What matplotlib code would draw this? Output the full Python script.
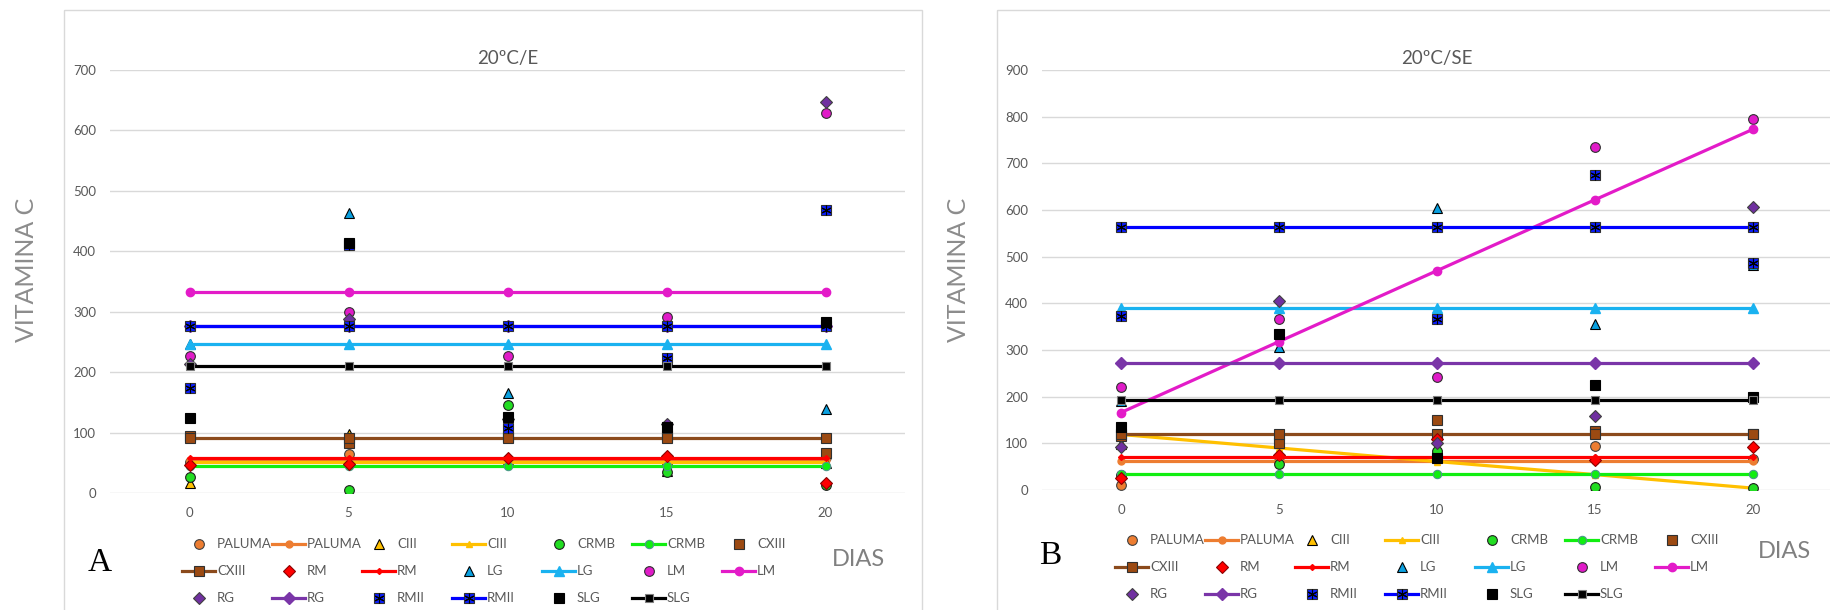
import numpy as np
import matplotlib.pyplot as plt

plt.rcParams['font.family'] = ['Lato', 'DejaVu Sans']

dias = [0, 5, 10, 15, 20]
muestras = ['PALUMA', 'CIII', 'CRMB', 'CXIII', 'RM', 'LG', 'LM', 'RG', 'RMII', 'SLG']

# 20ºC/E : valores medidos
e_paluma = [52, 64, 50, 46, 60]
e_ciii = [17, 98, 52, 36, 50]
e_crmb = [27, 5, 145, 34, 13]
e_cxiii = [95, 83, 92, 95, 66]
e_rm = [46, 48, 58, 62, 16]
e_lg = [246, 464, 166, 221, 139]
e_lm = [226, 299, 226, 292, 629]
e_rg = [213, 288, 122, 115, 647]
e_rmii = [173, 410, 107, 223, 469]
e_slg = [124, 413, 125, 110, 283]

# 20ºC/E : rectas
e_paluma_r = [54, 54, 54, 54, 54]
e_ciii_r = [51, 51, 51, 51, 51]
e_crmb_r = [44, 44, 44, 44, 44]
e_cxiii_r = [91, 91, 91, 91, 91]
e_rm_r = [58, 58, 58, 58, 58]
e_lg_r = [247, 247, 247, 247, 247]
e_lm_r = [332, 332, 332, 332, 332]
e_rg_r = [277, 277, 277, 277, 277]
e_rmii_r = [277, 277, 277, 277, 277]
e_slg_r = [210, 210, 210, 210, 210]

# 20ºC/SE : valores medidos
se_paluma = [11, 62, 82, 94, 66]
se_ciii = [98, 112, 88, 7, 5]
se_crmb = [33, 55, 84, 7, 5]
se_cxiii = [116, 101, 150, 127, 119]
se_rm = [25, 75, 109, 64, 93]
se_lg = [191, 307, 604, 355, 483]
se_lm = [220, 366, 243, 734, 795]
se_rg = [92, 406, 100, 159, 606]
se_rmii = [373, np.nan, 366, 675, 486]
se_slg = [136, 334, 68, 225, 200]

# 20ºC/SE : rectas
se_paluma_r = [62, 62, 62, 62, 62]
se_ciii_r = [119, 90, 61, 33, 4]
se_crmb_r = [34, 34, 34, 34, 34]
se_cxiii_r = [120, 120, 120, 120, 120]
se_rm_r = [71, 71, 71, 71, 71]
se_lg_r = [389, 389, 389, 389, 389]
se_lm_r = [166, 318, 470, 622, 773]
se_rg_r = [272, 272, 272, 272, 272]
se_rmii_r = [564, 564, 564, 564, 564]
se_slg_r = [193, 193, 193, 193, 193]

datos_e = dict(zip(muestras, [e_paluma, e_ciii, e_crmb, e_cxiii, e_rm, e_lg, e_lm, e_rg, e_rmii, e_slg]))
rectas_e = dict(zip(muestras, [e_paluma_r, e_ciii_r, e_crmb_r, e_cxiii_r, e_rm_r, e_lg_r, e_lm_r, e_rg_r, e_rmii_r, e_slg_r]))
datos_se = dict(zip(muestras, [se_paluma, se_ciii, se_crmb, se_cxiii, se_rm, se_lg, se_lm, se_rg, se_rmii, se_slg]))
rectas_se = dict(zip(muestras, [se_paluma_r, se_ciii_r, se_crmb_r, se_cxiii_r, se_rm_r, se_lg_r, se_lm_r, se_rg_r, se_rmii_r, se_slg_r]))

pto = {
    'PALUMA': dict(marker='o', ms=7, mfc='#ED7D31', mec='#404040', mew=0.8),
    'CIII': dict(marker='^', ms=7, mfc='#FFC000', mec='black', mew=0.8),
    'CRMB': dict(marker='o', ms=7, mfc='#22DD22', mec='#202020', mew=0.8),
    'CXIII': dict(marker='s', ms=7, mfc='#9C4A12', mec='#303030', mew=0.8),
    'RM': dict(marker='D', ms=6, mfc='#FF0000', mec='#8B0000', mew=0.8),
    'LG': dict(marker='^', ms=7.5, mfc='#0AA0E0', mec='black', mew=0.8),
    'LM': dict(marker='o', ms=7, mfc='#E01BC8', mec='#303030', mew=0.8),
    'RG': dict(marker='D', ms=6.5, mfc='#7030A0', mec='#404040', mew=0.8),
    'RMII': dict(marker='s', ms=7.5, mfc='#0A1EFF', mec='#303030', mew=0.8),
    'SLG': dict(marker='s', ms=7.5, mfc='black', mec='black', mew=0.8),
}
lin = {
    'PALUMA': dict(color='#ED7D31', marker='o', ms=5),
    'CIII': dict(color='#FFC000', marker='^', ms=4),
    'CRMB': dict(color='#11EE11', marker='o', ms=6, mfc='#11EE11', mec='#4A9A8A', mew=0.8),
    'CXIII': dict(color='#8B4A1C', marker='s', ms=7, mfc='#9C4A12', mec='#303030', mew=0.8),
    'RM': dict(color='#FF0000', marker='D', ms=3),
    'LG': dict(color='#1AB2F0', marker='^', ms=7),
    'LM': dict(color='#E31BC8', marker='o', ms=6),
    'RG': dict(color='#7A35A8', marker='D', ms=6),
    'RMII': dict(color='#0000FF', marker='s', ms=7, mfc='#0A1EFF', mec='#303030', mew=0.8),
    'SLG': dict(color='black', marker='s', ms=6, mec='#808080', mew=0.8),
}
asterisco = dict(marker=(6, 2, 0), ms=7, color='black', mew=0.8, ls='none')

gris = '#595959'

fig = plt.figure(figsize=(18.3, 6.1), dpi=100)
W, H = 1830, 610


def panel(pos, datos, rectas, ymax, titulo):
    ax = fig.add_axes(pos)
    for s in muestras:
        ax.plot(dias, datos[s], ls='none', **pto[s])
        if s == 'RMII':
            ax.plot(dias, datos[s], **asterisco)
        ax.plot(dias, rectas[s], lw=2.3, **lin[s])
        if s == 'RMII':
            ax.plot(dias, rectas[s], **asterisco)
    ax.set_xlim(-2.5, 22.5)
    ax.set_ylim(0, ymax)
    ax.set_xticks(dias)
    ax.set_yticks(np.arange(0, ymax + 1, 100))
    ax.grid(axis='y', color='#D9D9D9', lw=1)
    ax.set_axisbelow(True)
    for sp in ax.spines.values():
        sp.set_visible(False)
    ax.tick_params(length=0, labelsize=9.5, labelcolor=gris)
    ax.tick_params(axis='y', pad=10)
    ax.tick_params(axis='x', pad=10)
    ax.set_title(titulo, fontsize=13.5, color=gris, pad=4)
    return ax


axA = panel([110 / W, 1 - 493 / H, 795 / W, 423 / H], datos_e, rectas_e, 700, '20ºC/E')
axB = panel([1042 / W, 1 - 490 / H, 790 / W, 420 / H], datos_se, rectas_se, 900, '20ºC/SE')

# capa en pixeles para marcos, leyendas y rotulos
lay = fig.add_axes([0, 0, 1, 1])
lay.set_xlim(0, W)
lay.set_ylim(H, 0)
lay.axis('off')
lay.add_patch(plt.Rectangle((64, 10), 858, 700, fill=False, ec='#D9D9D9', lw=1))
lay.add_patch(plt.Rectangle((997, 10), 900, 700, fill=False, ec='#D9D9D9', lw=1))

entradas = []
for s in muestras:
    entradas.append((s, 'pto'))
    entradas.append((s, 'lin'))


def leyenda(x0, y0):
    for k, (s, tipo) in enumerate(entradas):
        fila, col = divmod(k, 7)
        xh = x0 + 118 + 90 * col
        yh = y0 + 27 * fila
        if tipo == 'lin':
            lay.plot([xh, xh + 33], [yh, yh], lw=2.3, color=lin[s]['color'])
            lay.plot([xh + 16.5], [yh], ls='none', **lin[s])
            if s == 'RMII':
                lay.plot([xh + 16.5], [yh], **asterisco)
        else:
            lay.plot([xh + 16.5], [yh], ls='none', **pto[s])
            if s == 'RMII':
                lay.plot([xh + 16.5], [yh], **asterisco)
        lay.text(xh + 35, yh, s, va='center', ha='left', fontsize=9.5, color=gris)


leyenda(64, 544)
leyenda(997, 540)

lay.text(859, 559, 'DIAS', ha='center', va='center', fontsize=17, color='#808080')
lay.text(1784, 552, 'DIAS', ha='center', va='center', fontsize=17, color='#808080')
lay.text(26, 270, 'VITAMINA C', rotation=90, ha='center', va='center', fontsize=18, color='#8C8C8C')
lay.text(959, 270, 'VITAMINA C', rotation=90, ha='center', va='center', fontsize=18, color='#8C8C8C')
lay.text(100, 563, 'A', ha='center', va='center', fontsize=24, family='Liberation Serif', color='black')
lay.text(1050, 556, 'B', ha='center', va='center', fontsize=24, family='Liberation Serif', color='black')

fig.savefig('out.png', dpi=100)
